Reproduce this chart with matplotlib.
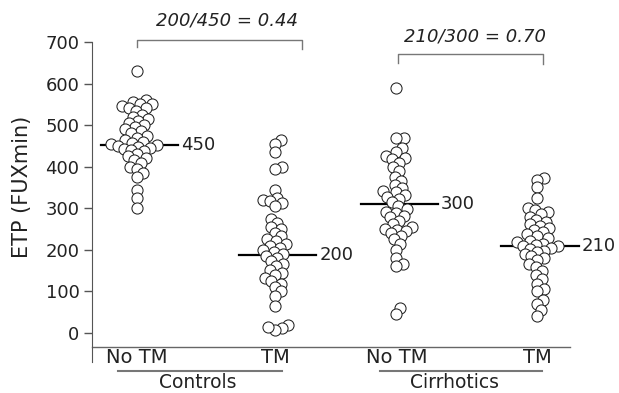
import numpy as np
import matplotlib
matplotlib.use('Agg')
import matplotlib.pyplot as plt

# ETP values
controls_notm = [630, 560, 555, 550, 550, 545, 540, 540, 535, 525, 520, 515, 510,
                 505, 500, 495, 490, 485, 480, 475, 470, 465, 460, 458, 455, 452,
                 450, 448, 445, 442, 440, 438, 430, 425, 420, 415, 410, 400, 395,
                 385, 375, 345, 325, 300]
controls_tm = [465, 455, 435, 400, 395, 345, 325, 320, 318, 312, 305, 275, 265, 255,
               250, 240, 232, 225, 220, 215, 210, 205, 200, 195, 190, 185, 180, 172,
               165, 160, 152, 145, 140, 132, 125, 118, 110, 100, 90, 65, 20, 12, 8, 15]
cirrh_notm = [590, 470, 468, 445, 435, 425, 420, 418, 410, 400, 390, 375, 365, 355,
              348, 342, 338, 332, 328, 322, 315, 305, 298, 292, 288, 282, 278, 270,
              262, 255, 250, 248, 245, 240, 232, 225, 215, 200, 180, 165, 160, 60, 45]
cirrh_tm = [372, 368, 350, 325, 300, 295, 290, 285, 280, 272, 268, 262, 258, 252,
            248, 242, 238, 232, 228, 222, 218, 215, 212, 210, 208, 205, 202, 198, 195,
            190, 185, 180, 175, 165, 158, 150, 140, 130, 118, 105, 100, 80, 70, 55, 40]

group_values = [controls_notm, controls_tm, cirrh_notm, cirrh_tm]
group_labels = ['No TM', 'TM', 'No TM', 'TM']
positions = [0.0, 1.0, 1.88, 2.9]
medians = [452, 188, 310, 210]
median_labels = ['450', '200', '300', '210']
ratio_labels = ['200/450 = 0.44', '210/300 = 0.70']
categories = ['Controls', 'Cirrhotics']

W, H = 619, 393
fig = plt.figure(figsize=(W / 100, H / 100), dpi=100)
ax = fig.add_axes([92 / W, 31 / H, 478 / W, 320 / H])
xmin, xmax = -0.326, 3.138
ymin, ymax = -70, 700
ax.set_xlim(xmin, xmax)
ax.set_ylim(ymin, ymax)

px_x = 478 / (xmax - xmin)
px_y = 320 / (ymax - ymin)


def swarm_offsets(vals, d=7.2):
    # simple beeswarm in pixel space, circles may overlap a bit
    vals = np.asarray(vals, dtype=float)
    offs = np.zeros(len(vals))
    placed = []
    for i in np.argsort(vals):
        y = vals[i] * px_y
        cands = [0.0]
        for xp, yp in placed:
            dy = y - yp
            if abs(dy) < d:
                dx = np.sqrt(d * d - dy * dy)
                cands += [xp + dx, xp - dx]
        cands.sort(key=abs)
        for c in cands:
            if all((c - xp) ** 2 + (y - yp) ** 2 >= d * d - 1e-6 for xp, yp in placed):
                break
        placed.append((c, y))
        offs[i] = c / px_x
    return offs


for pos, vals in zip(positions, group_values):
    xs = pos + swarm_offsets(vals)
    ax.scatter(xs, vals, s=64, facecolor='white', edgecolor='#222222',
               linewidth=0.75, zorder=3)

# median lines and labels
for pos, m, lab in zip(positions, medians, median_labels):
    ax.plot([pos - 0.26, pos + 0.30], [m, m], color='black', lw=1.6, zorder=2,
            clip_on=False)
    ax.text(pos + 0.32, m, lab, ha='left', va='center', fontsize=13, color='#222222')

# axes styling
for side in ['top', 'right', 'bottom']:
    ax.spines[side].set_visible(False)
ax.spines['left'].set_color('#555555')
ax.set_xticks([])
ax.set_yticks(range(0, 701, 100))
ax.tick_params(axis='y', direction='out', length=6, width=1, color='#555555',
               labelsize=13, labelcolor='#222222', pad=3)
fig.text(22 / W, 1 - 187 / H, 'ETP (FUXmin)', rotation=90, ha='center', va='center',
         fontsize=15, color='#222222')

# x baseline
ax.plot([xmin, xmax], [-34, -34], color='#666666', lw=1, clip_on=False)

# group labels
for pos, lab in zip(positions, group_labels):
    ax.text(pos, -60, lab, ha='center', va='center', fontsize=14, color='#222222',
            clip_on=False)

# category underlines and names
ax.plot([-0.138, 1.05], [-92, -92], color='#777777', lw=1.5, clip_on=False)
ax.plot([1.76, 2.935], [-92, -92], color='#777777', lw=1.5, clip_on=False)
ax.text(0.442, -120, categories[0], ha='center', va='center', fontsize=13.5,
        color='#222222', clip_on=False)
ax.text(2.30, -120, categories[1], ha='center', va='center', fontsize=13.5,
        color='#222222', clip_on=False)

# ratio brackets
ax.plot([0, 0, 1.196, 1.196], [687, 704, 704, 684], color='#777777', lw=1, clip_on=False)
ax.text(0.652, 752, ratio_labels[0], ha='center', va='center', fontsize=13,
        style='italic', color='#222222', clip_on=False)
ax.plot([1.891, 1.891, 2.942, 2.942], [650, 670, 670, 648], color='#777777', lw=1,
        clip_on=False)
ax.text(2.449, 714, ratio_labels[1], ha='center', va='center', fontsize=13,
        style='italic', color='#222222', clip_on=False)

fig.savefig('out.png', dpi=100)
